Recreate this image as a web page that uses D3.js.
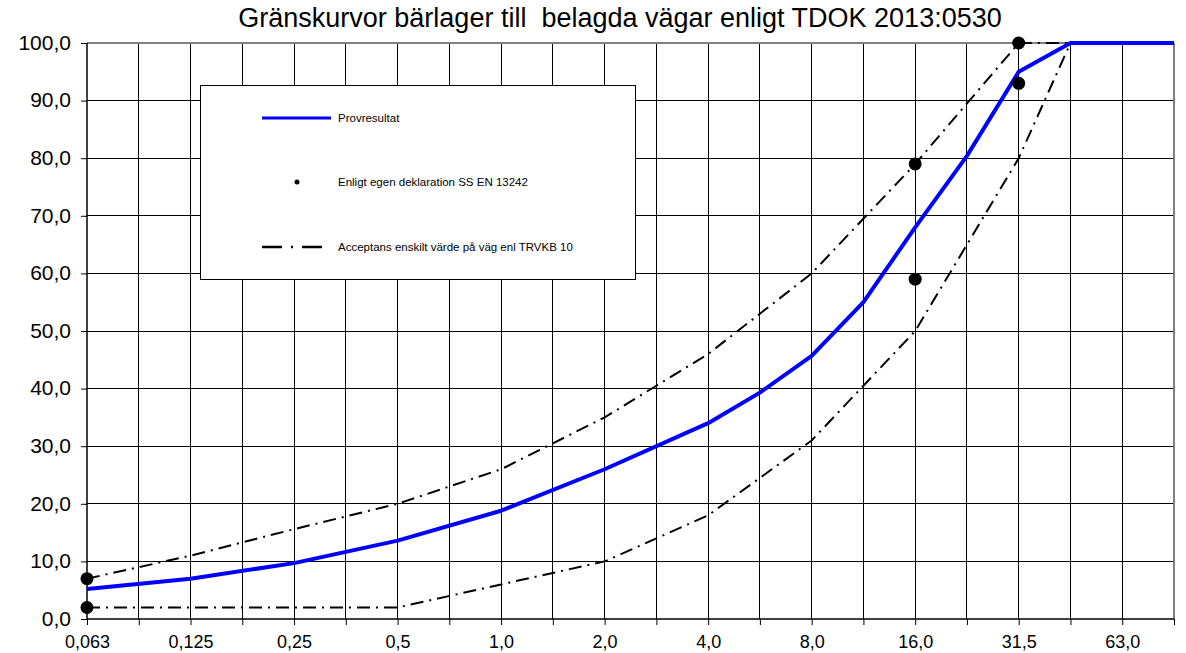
<!DOCTYPE html>
<html><head><meta charset="utf-8">
<script src="https://cdn.jsdelivr.net/npm/d3@7"></script>
<style>body{margin:0;background:#fff}svg{display:block}text{font-family:"Liberation Sans",Arial,sans-serif}</style>
</head><body>
<script>
const sieves = ["0,063","0,09","0,125","0,18","0,25","0,355","0,5","0,71","1,0","1,4","2,0","2,8","4,0","5,6","8,0","11,2","16,0","22,4","31,5","45,0","63,0","90,0"];
const tickLabels = ["0,063","0,125","0,25","0,5","1,0","2,0","4,0","8,0","16,0","31,5","63,0"];
const yTicks = [0,10,20,30,40,50,60,70,80,90,100];
const provSieves = ["0,063","0,125","0,25","0,5","1,0","2,0","4,0","5,6","8,0","11,2","16,0","22,4","31,5","45,0","63,0","90,0"];
const provValues = [5.2,7.0,9.7,13.6,18.8,26.0,34.0,39.3,45.7,55.0,68.0,80.4,95.0,100,100,100];
const limSieves = ["0,063","0,125","0,25","0,5","1,0","2,0","4,0","8,0","16,0","31,5","45,0","63,0"];
const upperValues = [7,11,15.6,20,26,35,46,60,79,100,100,100];
const lowerValues = [2,2,2,2,6,10,18,31,50,80,100,100];
const declSieves = ["0,063","0,063","16,0","16,0","31,5","31,5"];
const declValues = [7,2,79,59,100,93];
const title = "Gränskurvor bärlager till  belagda vägar enligt TDOK 2013:0530";
const legendLabels = ["Provresultat","Enligt egen deklaration SS EN 13242","Acceptans enskilt värde på väg enl TRVKB 10"];

const W=1186,H=653;
const L=87,R=1174,T=43,B=619;
const svg=d3.select("body").append("svg").attr("width",W).attr("height",H);
const x=d3.scalePoint().domain(sieves).range([L,R]);
const y=d3.scaleLinear().domain([0,100]).range([B,T]);

// grid
const g=svg.append("g");
g.selectAll("line.v").data(sieves.slice(1,-1)).join("line")
 .attr("x1",d=>x(d)).attr("x2",d=>x(d)).attr("y1",T).attr("y2",B)
 .attr("stroke","#000").attr("stroke-width",1).attr("shape-rendering","crispEdges");
g.selectAll("line.h").data(yTicks.slice(1,-1)).join("line")
 .attr("x1",L).attr("x2",R).attr("y1",d=>y(d)).attr("y2",d=>y(d))
 .attr("stroke","#000").attr("stroke-width",1).attr("shape-rendering","crispEdges");
// frame top & right gray
svg.append("line").attr("x1",L).attr("x2",R).attr("y1",T).attr("y2",T).attr("stroke","#808080").attr("stroke-width",2);
svg.append("line").attr("x1",R).attr("x2",R).attr("y1",T).attr("y2",B).attr("stroke","#808080").attr("stroke-width",2);

// axes
const xAxis=d3.axisBottom(x).tickSize(6).tickFormat(d=>tickLabels.includes(d)?d:"");
const xa=svg.append("g").attr("transform",`translate(0,${B})`).call(xAxis);
xa.select(".domain").attr("stroke","#000").attr("stroke-width",1.5).attr("d",`M${L},0H${R}`);
xa.selectAll(".tick line").attr("stroke","#000");
xa.selectAll("text").attr("font-size",18).attr("fill","#000").attr("y",16).attr("dy","0.71em");
const yAxis=d3.axisLeft(y).tickValues(yTicks).tickSize(6).tickFormat(d=>d.toFixed(1).replace(".",","));
const ya=svg.append("g").attr("transform",`translate(${L},0)`).call(yAxis);
ya.select(".domain").attr("stroke","#000").attr("stroke-width",1.5).attr("d",`M0,${T}V${B}`);
ya.selectAll(".tick line").attr("stroke","#000");
ya.selectAll("text").attr("font-size",21).attr("fill","#000").attr("x",-16).attr("dy","0.3em");

// lines
const line=d3.line().x(d=>x(d[0])).y(d=>y(d[1]));
const dash="13,6,2,6";
svg.append("path").datum(d3.zip(limSieves,upperValues)).attr("d",line).attr("fill","none").attr("stroke","#000").attr("stroke-width",2).attr("stroke-dasharray",dash);
svg.append("path").datum(d3.zip(limSieves,lowerValues)).attr("d",line).attr("fill","none").attr("stroke","#000").attr("stroke-width",2).attr("stroke-dasharray",dash);
svg.append("path").datum(d3.zip(provSieves,provValues)).attr("d",line).attr("fill","none").attr("stroke","#0000ff").attr("stroke-width",4).attr("stroke-linejoin","round");
svg.selectAll("circle.d").data(d3.zip(declSieves,declValues)).join("circle")
 .attr("cx",d=>x(d[0])).attr("cy",d=>y(d[1])).attr("r",6.5).attr("fill","#000");

// title
svg.append("text").attr("x",620).attr("y",27).attr("text-anchor","middle").attr("font-size",27).attr("fill","#000").style("white-space","pre").text(title);

// legend
const lg=svg.append("g");
lg.append("rect").attr("x",200).attr("y",85).attr("width",435).attr("height",194).attr("fill","#fff").attr("stroke","#000").attr("stroke-width",1).attr("shape-rendering","crispEdges");
const ly=[118,182,247];
lg.append("line").attr("x1",262).attr("x2",331).attr("y1",ly[0]).attr("y2",ly[0]).attr("stroke","#0000ff").attr("stroke-width",3);
lg.append("circle").attr("cx",297).attr("cy",ly[1]).attr("r",2.5).attr("fill","#000");
lg.append("line").attr("x1",262).attr("x2",323).attr("y1",ly[2]).attr("y2",ly[2]).attr("stroke","#000").attr("stroke-width",2.5).attr("stroke-dasharray","20,9,2,9");
lg.selectAll("text").data(legendLabels).join("text").attr("x",338).attr("y",(d,i)=>ly[i]+4).attr("font-size",11.5).attr("fill","#000").text(d=>d);
</script>
</body></html>
